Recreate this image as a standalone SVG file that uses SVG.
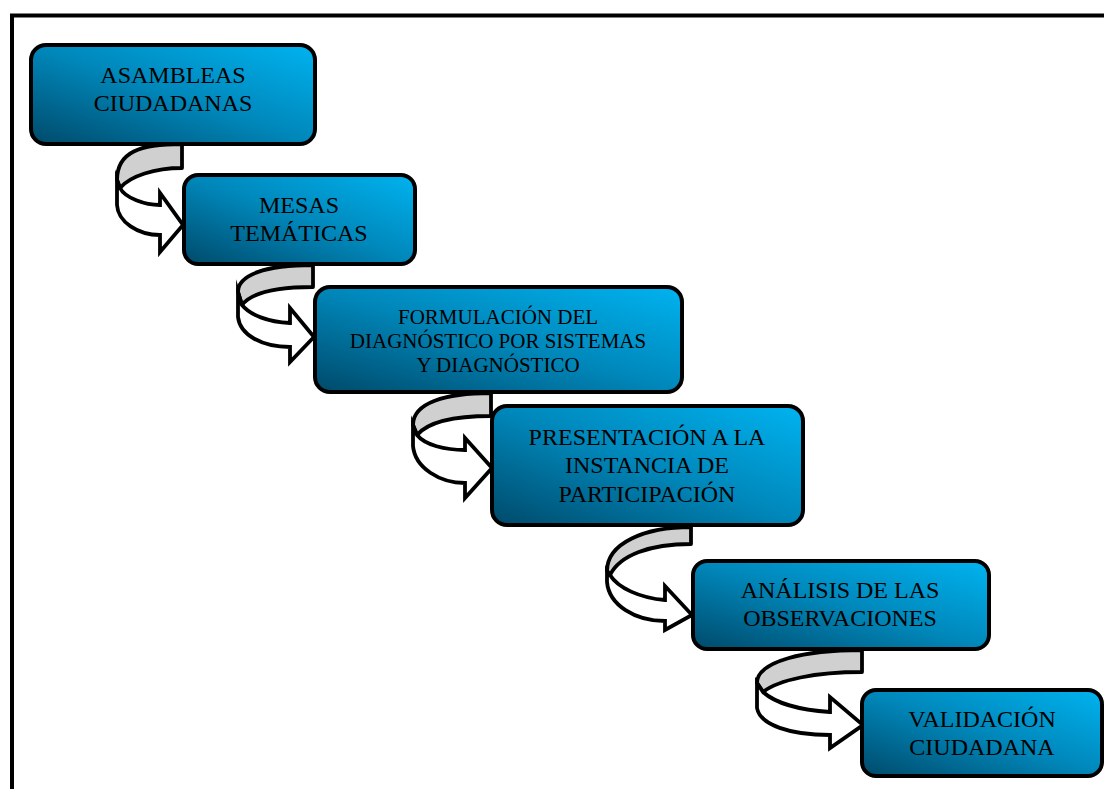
<svg xmlns="http://www.w3.org/2000/svg" width="1104" height="789" viewBox="0 0 1104 789">
<defs>
<linearGradient id="boxGrad" x1="0" y1="1" x2="1" y2="0">
<stop offset="0" stop-color="#004a6a"/>
<stop offset="0.5" stop-color="#0087ba"/>
<stop offset="1" stop-color="#00b3f0"/>
</linearGradient>
<style>
.box{fill:url(#boxGrad);stroke:#000;stroke-width:4}
.lbl{font-family:"Liberation Serif","Times New Roman",serif;font-size:24px;fill:#000;text-anchor:middle}
.sm{font-size:21px}
.back{fill:#d0d0d0;stroke:#000;stroke-width:3.8;stroke-linejoin:round}
.front{fill:#fff;stroke:#000;stroke-width:3.8;stroke-linejoin:miter;stroke-miterlimit:10}
</style>
</defs>
<rect x="0" y="0" width="1104" height="789" fill="#fff"/>
<rect x="12" y="15.5" width="1200" height="900" fill="none" stroke="#000" stroke-width="4"/>
<g id="connectors">
<g id="c1">
<path class="back" d="M182,144 C140,144 117,152 117,180 L120,188 C130,176 155,168 182,168 Z"/>
<path class="front" d="M117,180 L117,205 C118,222 138,235 160,235 L160,252 L183,225 L160,193 L160,205 C145,205 125,198 120,188 Z"/>
</g>
<g id="c2">
<path class="back" d="M313,265 C265,265 238,275 238,292 L242,305 C252,292 280,287 313,287 Z"/>
<path class="front" d="M238,292 L238,317 C240,335 262,347 290,347 L290,362 L314,337 L290,308 L290,323 C268,322 250,315 242,305 Z"/>
</g>
<g id="c3">
<path class="back" d="M491,393 C445,393 413,403 413,425 L417,435 C428,422 455,416 491,416 Z"/>
<path class="front" d="M413,425 L413,446 C415,468 440,483 465,483 L465,498 L492,468 L465,438 L465,450 C445,450 425,445 417,435 Z"/>
</g>
<g id="c4">
<path class="back" d="M691,527 C645,527 607,543 607,571 L610,575 C620,555 650,544 691,544 Z"/>
<path class="front" d="M607,571 L607,582 C609,605 635,621 665,621 L665,630 L692,615 L665,586 L665,600 C640,598 618,588 610,575 Z"/>
</g>
<g id="c5">
<path class="back" d="M862,650 C805,650 757,661 757,683 L763,692 C778,680 815,672 862,672 Z"/>
<path class="front" d="M757,683 L757,708 C760,725 790,735 830,735 L830,748 L863,725 L830,697 L830,712 C800,710 775,703 763,692 Z"/>
</g>
</g>
<g id="n1">
<rect class="box" x="31" y="45" width="284" height="99" rx="15"/>
<text class="lbl" x="173" y="83">ASAMBLEAS</text>
<text class="lbl" x="173" y="111">CIUDADANAS</text>
</g>
<g id="n2">
<rect class="box" x="184" y="175" width="231" height="89" rx="14"/>
<text class="lbl" x="299" y="213">MESAS</text>
<text class="lbl" x="299" y="241">TEMÁTICAS</text>
</g>
<g id="n3">
<rect class="box" x="315" y="287" width="367" height="105" rx="15"/>
<text class="lbl sm" x="498" y="324">FORMULACIÓN DEL</text>
<text class="lbl sm" x="498" y="348">DIAGNÓSTICO POR SISTEMAS</text>
<text class="lbl sm" x="498" y="372">Y DIAGNÓSTICO</text>
</g>
<g id="n4">
<rect class="box" x="492" y="406" width="311" height="119" rx="15"/>
<text class="lbl" x="647" y="445">PRESENTACIÓN A LA</text>
<text class="lbl" x="647" y="473">INSTANCIA DE</text>
<text class="lbl" x="647" y="502">PARTICIPACIÓN</text>
</g>
<g id="n5">
<rect class="box" x="693" y="561" width="296" height="88" rx="14"/>
<text class="lbl" x="840" y="598">ANÁLISIS DE LAS</text>
<text class="lbl" x="840" y="626">OBSERVACIONES</text>
</g>
<g id="n6">
<rect class="box" x="862" y="690" width="240" height="86" rx="14"/>
<text class="lbl" x="982" y="727">VALIDACIÓN</text>
<text class="lbl" x="982" y="755">CIUDADANA</text>
</g>
</svg>
